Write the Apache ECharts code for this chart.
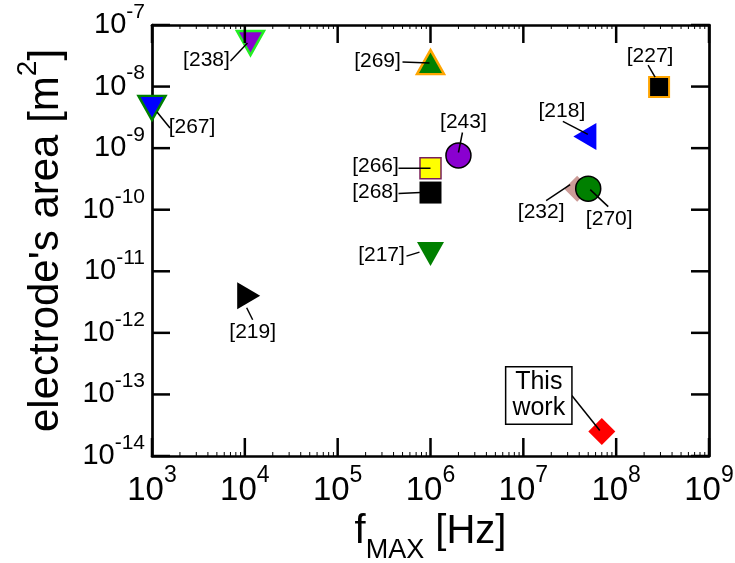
<!DOCTYPE html>
<html>
<head>
<meta charset="utf-8">
<script src="https://cdn.jsdelivr.net/npm/echarts@6/dist/echarts.min.js"></script>
<style>
  html, body { margin: 0; padding: 0; background: #fff; }
  #chart { width: 735px; height: 563px; }
</style>
</head>
<body>
<div id="chart"></div>
<script>
// 数据：参考文献编号、最高频率 (Hz)、电极面积 (m^2)
const refs  = ['[267]', '[238]', '[269]', '[227]', '[218]', '[243]', '[266]', '[268]', '[217]', '[232]', '[270]', '[219]', 'This\nwork'];
const fMax  = [1.0e3, 1.15e4, 1.0e6, 2.9e8, 4.6e7, 2.0e6, 1.0e6, 1.0e6, 1.0e6, 3.8e7, 5.0e7, 1.1e4, 7.0e7];
const area  = [4.5e-9, 5.1e-8, 2.5e-8, 9.8e-9, 1.55e-9, 7.6e-10, 4.7e-10, 1.9e-10, 1.9e-11, 2.2e-10, 2.2e-10, 4.0e-12, 2.5e-14];

// 主刻度（十的幂）
const xTickExps = [3, 4, 5, 6, 7, 8, 9];
const yTickExps = [-14, -13, -12, -11, -10, -9, -8, -7];

// 标记样式（与数据分开）
const markerStyles = [
    { symbol: 'triangle', rotate: 180, size: [27, 24], color: '#0000ff', border: '#008000', bw: 2.5 },
    { symbol: 'triangle', rotate: 180, size: [27, 24], color: '#8a00d0', border: '#22ee22', bw: 2.5 },
    { symbol: 'triangle', rotate: 0,   size: [27, 24], color: '#008000', border: '#ffa500', bw: 2.5 },
    { symbol: 'rect',     rotate: 0,   size: [20, 20], color: '#000000', border: '#ffa500', bw: 2 },
    { symbol: 'triangle', rotate: 90,  size: [27, 23], color: '#0000ff', border: null,      bw: 0 },
    { symbol: 'circle',   rotate: 0,   size: 25,       color: '#8a00d0', border: '#000000', bw: 1.5 },
    { symbol: 'rect',     rotate: 0,   size: [21, 21], color: '#ffff00', border: '#7a1f5a', bw: 1.5 },
    { symbol: 'rect',     rotate: 0,   size: [22, 22], color: '#000000', border: null,      bw: 0 },
    { symbol: 'triangle', rotate: 180, size: [27, 24], color: '#008000', border: null,      bw: 0 },
    { symbol: 'diamond',  rotate: 0,   size: [26, 26], color: '#cc9c98', border: null,      bw: 0 },
    { symbol: 'circle',   rotate: 0,   size: 25,       color: '#008000', border: '#000000', bw: 1.5 },
    { symbol: 'triangle', rotate: -90, size: [27, 23], color: '#000000', border: null,      bw: 0 },
    { symbol: 'diamond',  rotate: 0,   size: [27, 27], color: '#ff0000', border: null,      bw: 0 }
];

// 注释位置（相对于点的像素偏移）：文字中心、引线起点、引线终点
const annoOffsets = [
    { t: [40, 19],   l: [5, 4, 18, 20] },
    { t: [-44, 17],  l: [-20, 18, -3, 0] },
    { t: [-53, -1],  l: [-28, 0, -1, 1] },
    { t: [-9, -31],  l: [-11, -22, -4, -10] },
    { t: [-23, -25], l: [-22, -15, 3, -2] },
    { t: [5, -33],   l: [4, -23, 0, -3] },
    { t: [-55, -2],  l: [-32, 0, 0, 0] },
    { t: [-55, 0],   l: [-32, 1, -10, 0] },
    { t: [-49, 1],   l: [-24, 2, -11, -2] },
    { t: [-36, 24],  l: [-31, 12, -7, -4] },
    { t: [21, 31],   l: [2, 1, 20, 18] },
    { t: [4, 36],    l: [-2, 12, 4, 24] },
    { t: [-63, -36], l: [-30, -36, -2, -1] }
];

const FONT = '"Liberation Sans", Arial, Helvetica, sans-serif';
const MAJOR_LEN = 18;
const MINOR_LEN = 4;

function powLabel(v) {
    const e = Math.round(Math.log10(v));
    return '{b|10}{e|' + e + '}';
}

const chart = echarts.init(document.getElementById('chart'));

const axisLine = { show: true, lineStyle: { color: '#000', width: 2.7 } };
const noLabel = { show: false };

const xBase = { type: 'log', min: 1e3, max: 1e9, splitNumber: 6, splitLine: { show: false }, axisTick: { show: false } };
const yBase = { type: 'log', min: 1e-14, max: 1e-7, splitNumber: 7, splitLine: { show: false }, axisTick: { show: false } };

const series = fMax.map(function (x, i) {
    const s = markerStyles[i];
    return {
        type: 'scatter',
        xAxisIndex: 0,
        yAxisIndex: 0,
        symbol: s.symbol,
        symbolRotate: s.rotate,
        symbolSize: s.size,
        itemStyle: {
            color: s.color,
            borderColor: s.border || s.color,
            borderWidth: s.bw,
            opacity: 1
        },
        z: 3 + (i === 10 ? 1 : 0),
        data: [[x, area[i]]],
        silent: true
    };
});

const option = {
    animation: false,
    grid: { left: 152, right: 26, top: 25, bottom: 107, containLabel: false, outerBoundsMode: 'none' },
    xAxis: [
        Object.assign({}, xBase, {
            position: 'bottom',
            axisLine: axisLine,
            axisLabel: {
                formatter: powLabel,
                margin: 8,
                rich: {
                    b: { fontFamily: FONT, fontSize: 33, color: '#000' },
                    e: { fontFamily: FONT, fontSize: 23, color: '#000', padding: [0, 0, 30, 0] }
                }
            },
            name: '{a|f}{s|MAX}{a| [Hz]}',
            nameLocation: 'middle',
            nameGap: 36,
            nameTextStyle: {
                rich: {
                    a: { fontFamily: FONT, fontSize: 40, color: '#000' },
                    s: { fontFamily: FONT, fontSize: 27, color: '#000', padding: [38, 0, 0, 0] }
                }
            }
        }),
        Object.assign({}, xBase, { position: 'top', axisLine: axisLine, axisLabel: noLabel })
    ],
    yAxis: [
        Object.assign({}, yBase, {
            position: 'left',
            axisLine: axisLine,
            axisLabel: {
                formatter: powLabel,
                margin: 7,
                rich: {
                    b: { fontFamily: FONT, fontSize: 29, color: '#000' },
                    e: { fontFamily: FONT, fontSize: 21, color: '#000', padding: [0, 0, 26, 0] }
                }
            },
            name: "{a|electrode's area [m}{p|2}{a|]}",
            nameLocation: 'middle',
            nameRotate: 90,
            nameGap: 74,
            nameTextStyle: {
                rich: {
                    a: { fontFamily: FONT, fontSize: 42, color: '#000' },
                    p: { fontFamily: FONT, fontSize: 28, color: '#000', padding: [0, 0, 36, 0] }
                }
            }
        }),
        Object.assign({}, yBase, { position: 'right', axisLine: axisLine, axisLabel: noLabel })
    ],
    series: series
};

chart.setOption(option);

function toPx(x, y) {
    return chart.convertToPixel({ xAxisIndex: 0, yAxisIndex: 0 }, [x, y]);
}

function tickLine(x1, y1, x2, y2, w) {
    return {
        type: 'line',
        z: 50,
        silent: true,
        shape: { x1: x1, y1: y1, x2: x2, y2: y2 },
        style: { stroke: '#000', lineWidth: w, lineCap: 'butt' }
    };
}

// 刻度：位置由坐标轴换算（四边向内），x 轴带次刻度
function buildTicks() {
    const els = [];
    const lo = toPx(1e3, 1e-14);
    const hi = toPx(1e9, 1e-7);
    const left = lo[0], bottom = lo[1], right = hi[0], top = hi[1];

    xTickExps.forEach(function (e) {
        const px = toPx(Math.pow(10, e), 1e-14)[0];
        els.push(tickLine(px, bottom, px, bottom - MAJOR_LEN, 2.5));
        els.push(tickLine(px, top, px, top + MAJOR_LEN, 2.5));
        if (e < 9) {
            for (let k = 2; k <= 9; k++) {
                const mx = toPx(k * Math.pow(10, e), 1e-14)[0];
                els.push(tickLine(mx, bottom, mx, bottom - MINOR_LEN, 1));
                els.push(tickLine(mx, top, mx, top + MINOR_LEN, 1));
            }
        }
    });
    yTickExps.forEach(function (e) {
        const py = toPx(1e3, Math.pow(10, e))[1];
        els.push(tickLine(left, py, left + MAJOR_LEN, py, 2.5));
        els.push(tickLine(right, py, right - MAJOR_LEN, py, 2.5));
    });
    return els;
}

// 注释：文字 + 引线，位置从数据经坐标轴换算
function buildAnnotations() {
    const elements = [];
    fMax.forEach(function (x, i) {
        const p = toPx(x, area[i]);
        const o = annoOffsets[i];
        const boxed = i === refs.length - 1;
        elements.push({
            type: 'line',
            z: 100,
            silent: true,
            shape: { x1: p[0] + o.l[0], y1: p[1] + o.l[1], x2: p[0] + o.l[2], y2: p[1] + o.l[3] },
            style: { stroke: '#000', lineWidth: 1.5 }
        });
        elements.push({
            type: 'text',
            z: 100,
            silent: true,
            style: {
                x: p[0] + o.t[0],
                y: p[1] + o.t[1],
                text: refs[i],
                align: 'center',
                verticalAlign: 'middle',
                fontFamily: FONT,
                fontSize: boxed ? 25 : 21,
                lineHeight: boxed ? 26 : 22,
                fill: '#000',
                backgroundColor: boxed ? '#fff' : null,
                borderColor: boxed ? '#000' : null,
                borderWidth: boxed ? 1.5 : 0,
                padding: boxed ? [2, 6, 2, 6] : 0
            }
        });
    });
    return elements;
}

chart.setOption({ graphic: { elements: buildTicks().concat(buildAnnotations()) } });
</script>
</body>
</html>
